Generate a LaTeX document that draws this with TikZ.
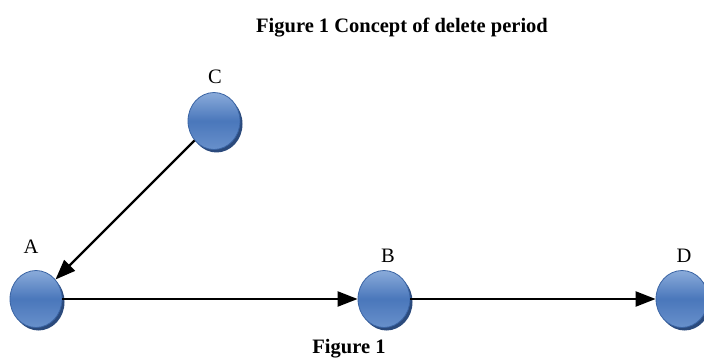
\documentclass[tikz,border=0pt]{standalone}
\usepackage{fontspec}
\setmainfont{Liberation Serif}
\usetikzlibrary{arrows.meta,shapes.geometric}
\definecolor{ballTop}{HTML}{8AABDA}
\definecolor{ballMid}{HTML}{4A77BB}
\definecolor{ballBot}{HTML}{6890CB}
\definecolor{ballEdge}{HTML}{3A64A4}
\definecolor{ballShadow}{HTML}{2B4A7C}
\tikzset{
  ball/.style={ellipse, minimum width=52pt, minimum height=57pt, inner sep=0pt,
    draw=ballEdge, line width=0.8pt,
    top color=ballTop, bottom color=ballBot, middle color=ballMid,
    preaction={fill=ballShadow, transform canvas={xshift=2.5pt,yshift=-3pt}}},
  lbl/.style={font=\fontsize{20.5}{22}\selectfont, anchor=base},
  ttl/.style={font=\fontsize{20.5}{22}\selectfont\bfseries, anchor=base},
  arr/.style={line width=2.2pt, -{Triangle[length=20pt,width=15pt]}}
}
\begin{document}
\begin{tikzpicture}[x=1pt,y=1pt]
\useasboundingbox (0,0) rectangle (704,362);
\node[ttl] (title) at (402,329) {Figure 1 Concept of delete period};
\node[ttl] (cap) at (349,9) {Figure 1};
\node[ball] (A) at (36,63) {};
\node[ball] (B) at (384,63) {};
\node[ball] (C) at (214,241) {};
\node[ball] (D) at (682,63) {};
\node[lbl] (la) at (31,109) {A};
\node[lbl] (lb) at (388,100) {B};
\node[lbl] (lc) at (215,278) {C};
\node[lbl] (ld) at (684,100) {D};
\draw[arr] (C) -- (A);
\draw[arr] (A) -- (B);
\draw[arr] (B) -- (D);
\end{tikzpicture}
\end{document}
